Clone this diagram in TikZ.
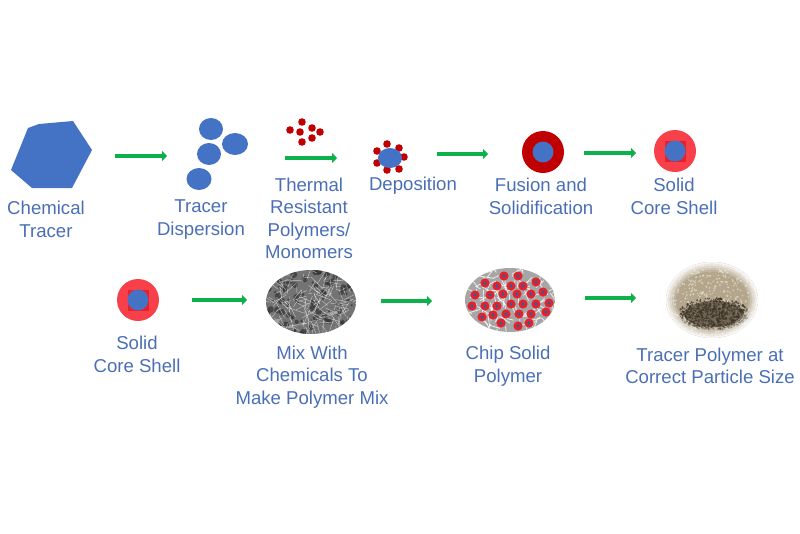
\documentclass[tikz,border=0pt]{standalone}
\usepackage{fontspec}
\setmainfont{Liberation Sans}
\usepackage{xcolor}
\usetikzlibrary{arrows.meta,positioning}
\definecolor{tracerblue}{HTML}{4472C4}
\definecolor{labelblue}{HTML}{4A6FB5}
\definecolor{darkshell}{HTML}{C00000}
\definecolor{lightshell}{HTML}{F8404A}
\definecolor{coresquare}{HTML}{E8202A}
\definecolor{flowgreen}{HTML}{0DB14B}
\definecolor{sandtan}{HTML}{B3A68C}
\definecolor{sandlight}{HTML}{E2DAC8}
\definecolor{sanddark}{HTML}{3A3226}

\begin{document}
\begin{tikzpicture}[x=1pt,y=-1pt]
	\tikzstyle{every node}=[inner sep=0pt,outer sep=0pt]
	\tikzstyle{label}=[text=labelblue,align=center,font=\fontsize{18.6}{22.4}\selectfont]
	\tikzstyle{flow}=[draw=flowgreen,line width=4.5pt,-{Triangle[width=10pt,length=5pt]}]
	\tikzstyle{shell}=[circle,minimum size=42pt]
	\tikzstyle{core}=[circle,fill=tracerblue,minimum size=21pt]
	\useasboundingbox (0,0) rectangle (800,533);

	% top row
	\fill[tracerblue] (28,128) -- (39,124) -- (73,121) -- (92,150) -- (72,188) -- (32,188) -- (11,170) -- cycle;
	\node[label] (chemical) at (46,219.5) {Chemical\\Tracer};

	\fill[tracerblue] (211,129) ellipse [x radius=12,y radius=11];
	\fill[tracerblue] (235,144) ellipse [x radius=13,y radius=11];
	\fill[tracerblue] (209,154) ellipse [x radius=12,y radius=11];
	\fill[tracerblue] (199,179) ellipse [x radius=12.5,y radius=11];
	\node[label] (dispersion) at (201,219.5) {Tracer\\Dispersion};

	\foreach \px/\py in {302/122,290/130,300/132,312/128,320/132,312/138,302/142}
		\fill[darkshell] (\px,\py) circle [radius=3.8];
	\node[label] (thermal) at (309,218.5) {Thermal\\Resistant\\Polymers/\\Monomers};

	\foreach \px/\py in {387/144,399/148,404/157,399/169,387/170,377/163,377/151}
		\fill[darkshell] (\px,\py) circle [radius=3.8];
	\fill[tracerblue] (390,158) ellipse [x radius=12,y radius=10];
	\node[label] (deposition) at (413,186) {Deposition};

	\node[shell,fill=darkshell] (fusion) at (543,152) {};
	\node[core] (fusioncore) at (fusion) {};
	\node[label] (fusiontext) at (541,196.5) {Fusion and\\Solidification};

	\node[shell,fill=lightshell] (shellA) at (675,151) {};
	\node[fill=coresquare,minimum size=21pt] (squareA) at (shellA) {};
	\node[core] (coreA) at (shellA) {};
	\node[label] (shelltextA) at (674,196.5) {Solid\\Core Shell};

	% bottom row
	\node[shell,fill=lightshell] (shellB) at (138,300) {};
	\node[fill=coresquare,minimum size=21pt] (squareB) at (shellB) {};
	\node[core] (coreB) at (shellB) {};
	\node[label] (shelltextB) at (137,354.5) {Solid\\Core Shell};

	\pgfmathsetseed{17}
	\begin{scope}
		\clip (311,302) ellipse [x radius=45,y radius=32];
		\fill[black!55] (266,270) rectangle (356,334);
		\foreach \k in {1,...,110}{
			\pgfmathsetmacro{\xa}{266+90*rnd}
			\pgfmathsetmacro{\ya}{270+64*rnd}
			\fill[black!80,opacity=.7] (\xa,\ya) circle [radius=1+2.5*rnd];
		}
		\foreach \k in {1,...,190}{
			\pgfmathsetmacro{\xa}{266+90*rnd}
			\pgfmathsetmacro{\ya}{270+64*rnd}
			\pgfmathsetmacro{\ang}{360*rnd}
			\pgfmathsetmacro{\len}{4+14*rnd}
			\draw[white,opacity=.6,line width=.4pt] (\xa,\ya) -- ++(\ang:\len);
		}
	\end{scope}
	\node[label] (mix) at (312,377) {Mix With\\Chemicals To\\Make Polymer Mix};

	\begin{scope}
		\clip (510,300) ellipse [x radius=45,y radius=32];
		\fill[black!35] (465,268) rectangle (555,332);
		\foreach \k in {1,...,130}{
			\pgfmathsetmacro{\xa}{465+90*rnd}
			\pgfmathsetmacro{\ya}{268+64*rnd}
			\pgfmathsetmacro{\ang}{360*rnd}
			\pgfmathsetmacro{\len}{5+10*rnd}
			\draw[white,opacity=.8,line width=.8pt] (\xa,\ya) -- ++(\ang:\len);
		}
	\end{scope}
	\foreach \px/\py in {504/276,518/276,536/282,485/283,497/286,511/286,523/286,475/295,490/295,503/294,517/294,531/294,543/292,472/306,485/306,497/306,511/304,523/304,536/304,549/303,482/317,493/315,506/314,519/314,531/314,546/312,501/323,518/326,529/323}{
		\fill[coresquare] (\px,\py) circle [radius=4.6];
		\fill[tracerblue!80!black] (\px,\py) circle [radius=1.9];
	}
	\node[label] (chip) at (508,366) {Chip Solid\\Polymer};

	\begin{scope}
		\clip (712,300) ellipse [x radius=46,y radius=38];
		\fill[sandtan] (666,262) rectangle (758,338);
		\foreach \k in {1,...,500}{
			\pgfmathsetmacro{\xa}{666+92*rnd}
			\pgfmathsetmacro{\ya}{262+76*rnd}
			\fill[sandlight,opacity=.75] (\xa,\ya) circle [radius=.5+.8*rnd];
		}
		\fill[sanddark,opacity=.55] (714,314) ellipse [x radius=30,y radius=13];
		\foreach \k in {1,...,650}{
			\pgfmathsetmacro{\ang}{360*rnd}
			\pgfmathsetmacro{\rr}{sqrt(rnd)}
			\fill[sanddark,opacity=.7] ({714+\rr*35*cos(\ang)},{314+\rr*16*sin(\ang)}) circle [radius=.5+.8*rnd];
		}
		\foreach \k in {0,...,4}{
			\pgfmathsetmacro{\fade}{.9-.18*\k}
			\draw[white,opacity=\fade,line width=2.2pt] (712,300) ellipse [x radius={45.5-2*\k},y radius={37.5-2*\k}];
		}
	\end{scope}
	\node[label] (sized) at (710,366) {Tracer Polymer at\\Correct Particle Size};

	% arrows
	\coordinate (fa) at (115,156);  \coordinate (fb) at (167,156);
	\coordinate (fc) at (285,158);  \coordinate (fd) at (337,158);
	\coordinate (fe) at (437,154);  \coordinate (ff) at (488,154);
	\coordinate (fg) at (584,153);  \coordinate (fh) at (636,153);
	\coordinate (fi) at (192,300);  \coordinate (fj) at (247,300);
	\coordinate (fk) at (381,301);  \coordinate (fl) at (432,301);
	\coordinate (fm) at (585,298);  \coordinate (fn) at (636,298);
	\path
	(fa) edge[flow] (fb)
	(fc) edge[flow] (fd)
	(fe) edge[flow] (ff)
	(fg) edge[flow] (fh)
	(fi) edge[flow] (fj)
	(fk) edge[flow] (fl)
	(fm) edge[flow] (fn);
\end{tikzpicture}
\end{document}
